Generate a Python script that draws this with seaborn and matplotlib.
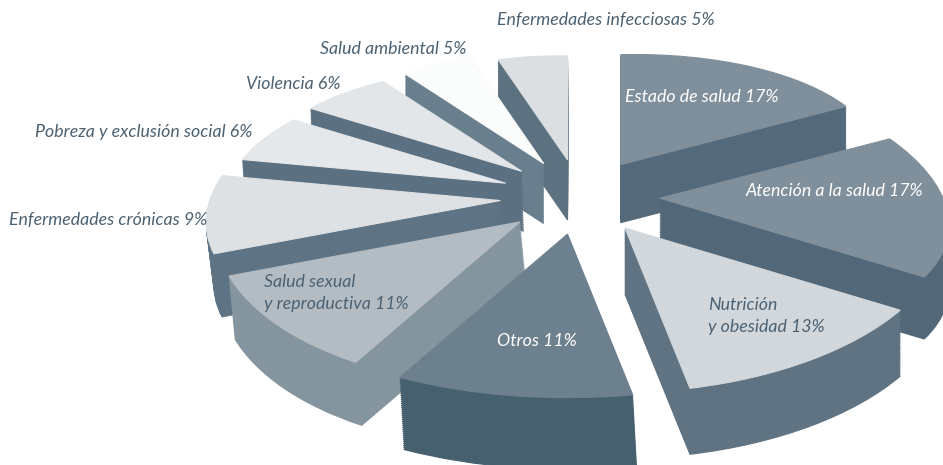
import numpy as np
import matplotlib
matplotlib.use("Agg")
import matplotlib.pyplot as plt
from matplotlib.transforms import Affine2D
import seaborn as sns

# Data
categories = ["Estado de salud", "Atención a la salud", "Nutrición y obesidad", "Otros",
              "Salud sexual y reproductiva", "Enfermedades crónicas",
              "Pobreza y exclusión social", "Violencia", "Salud ambiental",
              "Enfermedades infecciosas"]
shares = [17, 17, 13, 11, 11, 9, 6, 6, 5, 5]
label_texts = ["Estado de salud 17%", "Atención a la salud 17%", "Nutrición\ny obesidad 13%",
               "Otros 11%", "Salud sexual\ny reproductiva 11%", "Enfermedades crónicas 9%",
               "Pobreza y exclusión social 6%", "Violencia 6%", "Salud ambiental 5%",
               "Enfermedades infecciosas 5%"]

# Styling
top_colors = ["#7f909c", "#7f909c", "#d2d7db", "#6d808d", "#b4bcc3",
              "#dde1e4", "#e5e8eb", "#e3e6e9", "#fbfcfc", "#dbdfe2"]
side_colors = ["#54697a", "#526878", "#5f7382", "#47606f", "#84959f",
               "#5e7383", "#5b7080", "#5b7080", "#6a7f8d", "#5d7280"]
label_colors = ["white", "white", "#4b6172", "white", "#4b6172",
                "#4b6172", "#4b6172", "#4b6172", "#4b6172", "#4b6172"]
label_left_px = [625, 746, 708, 497, 264, 9, 35, 246, 320, 497]
label_mid_px = [97, 191, 316, 341, 293, 220, 132, 84, 49, 20]
rim_start = [234, 262, 326, 348, 341, 308, 268, 250, 235, 224]
rim_end = [257, 313, 347, 348, 313, 283, 251, 236, 242, 221]
side_depth_px = [58, 62, 66, 72, 63, 63, 60, 60, 60, 60]
side_shift_px = [0, 0, 0, 4, 6, 8, 4, 2, 0, 0]
paint_order = [9, 0, 8, 7, 1, 6, 5, 2, 4, 3]

W, H = 943, 465
SQUASH = 0.47
CX, CY = 580, 197
EXPLODE = 80
R = 300.0

sns.set_theme(style="white")
plt.rcParams["font.family"] = ["Lato", "DejaVu Sans"]

fig = plt.figure(figsize=(W / 100, H / 100), dpi=100, facecolor="white")
ax = fig.add_axes([0, 0, 1, 1])

fractions = np.array(shares) / sum(shares)
edges = 90 - 360 * np.concatenate([[0], np.cumsum(fractions)])
rank = {s: i for i, s in enumerate(paint_order)}


def rim_map(i):
    a, b = np.radians(edges[i]), np.radians(edges[i + 1])
    U = np.array([[np.cos(a), np.cos(b)], [np.sin(a), np.sin(b)]])
    return U @ np.diag([rim_start[i] / R, rim_end[i] / R]) @ np.linalg.inv(U)


def draw_layer(level, colors, layer_z):
    wedges, _ = ax.pie(shares, explode=[EXPLODE] * len(shares), radius=R,
                       center=(0, 0), startangle=90, counterclock=False,
                       colors=colors, wedgeprops={"linewidth": 0.8})
    for i, w in enumerate(wedges):
        cx, cy = w.center
        M = np.eye(3)
        M[:2, :2] = rim_map(i)
        drop = level * side_depth_px[i] / SQUASH
        shift = level * side_shift_px[i]
        t = (Affine2D().translate(-cx, -cy) + Affine2D(M)
             + Affine2D().translate(cx + shift, cy - drop))
        w.set_transform(t + ax.transData)
        w.set_edgecolor(colors[i])
        w.set_zorder(rank[i] + layer_z)
        w.set_clip_on(True)


n_layers = 36
for k in range(n_layers, 0, -1):
    draw_layer(k / n_layers, side_colors, 0.1 + 0.5 * (1 - k / n_layers))
draw_layer(0, top_colors, 0.8)

ax.set_aspect("auto")
ax.set_xlim(-CX, W - CX)
ax.set_ylim(-(H - CY) / SQUASH, CY / SQUASH)
ax.axis("off")

for txt, x, y, c in zip(label_texts, label_left_px, label_mid_px, label_colors):
    ax.text(x / W, 1 - y / H, txt, transform=ax.transAxes, ha="left", va="center",
            color=c, fontsize=12.75, fontstyle="italic", linespacing=1.42, zorder=30)

fig.savefig("out.png", dpi=100, facecolor="white")
